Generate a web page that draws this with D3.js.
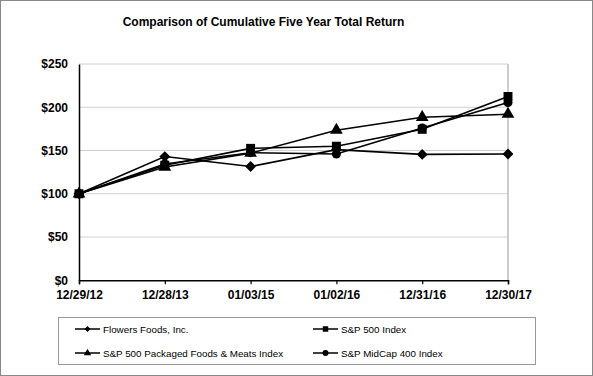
<!DOCTYPE html>
<html><head><meta charset="utf-8">
<script src="https://cdn.jsdelivr.net/npm/d3@7"></script>
<style>body{margin:0;background:#fff}svg{display:block;font-family:"Liberation Sans",Arial,sans-serif}</style>
</head><body><svg id="c" width="593" height="376"></svg>
<script>
const dates = ["12/29/12","12/28/13","01/03/15","01/02/16","12/31/16","12/30/17"];
const flowers = [100,143,131.5,151,145.5,146];
const sp500 = [100,133,152.5,155,174.5,212.5];
const packaged = [100,131,147,173.5,188.5,192];
const midcap = [100,134.5,147.5,146,176,205.5];
const yTicks = [0,50,100,150,200,250];
const seriesNames = ["Flowers Foods, Inc.","S&P 500 Index","S&P 500 Packaged Foods & Meats Index","S&P MidCap 400 Index"];
const series = [
  {name:seriesNames[0], values:flowers, sym:d3.symbolDiamond2, size:75, lsize:22},
  {name:seriesNames[1], values:sp500, sym:d3.symbolSquare, size:80, lsize:30},
  {name:seriesNames[2], values:packaged, sym:d3.symbolTriangle, size:70, lsize:24},
  {name:seriesNames[3], values:midcap, sym:d3.symbolCircle, size:64, lsize:28}
];
const svg = d3.select("#c");
svg.append("rect").attr("x",0.5).attr("y",0.5).attr("width",592).attr("height",375).attr("fill","#fff").attr("stroke","#888");
svg.append("text").attr("x",263.5).attr("y",26).attr("text-anchor","middle").attr("font-weight","bold").attr("font-size",12).text("Comparison of Cumulative Five Year Total Return");
const L=79,R=508,T=64,B=280.3;
const x = d3.scalePoint().domain(dates).range([L,R]);
const y = d3.scaleLinear().domain([0,250]).range([B,T]);
// grid
svg.append("g").selectAll("line").data(yTicks.filter(d=>d>0)).join("line")
  .attr("x1",L).attr("x2",R).attr("y1",d=>y(d)).attr("y2",d=>y(d)).attr("stroke","#d0d0d0").attr("stroke-width",1);
svg.append("line").attr("x1",R).attr("x2",R).attr("y1",T).attr("y2",B).attr("stroke","#bdbdbd").attr("stroke-width",1.5);
// axes
const ya = svg.append("g").attr("transform",`translate(${L},0)`).call(d3.axisLeft(y).tickValues(yTicks).tickSize(0).tickPadding(11).tickFormat(d=>"$"+d));
ya.select(".domain").attr("stroke","#000").attr("stroke-width",1.5);
ya.selectAll("text").attr("font-size",12).attr("font-weight","bold").attr("font-family","Liberation Sans, Arial, sans-serif").attr("fill","#000");
const xa = svg.append("g").attr("transform",`translate(0,${B})`).call(d3.axisBottom(x).tickSize(4).tickPadding(6));
xa.select(".domain").attr("stroke","#000").attr("stroke-width",1.5);
xa.selectAll(".tick line").attr("stroke","#000").attr("stroke-width",1.2);
xa.selectAll("text").attr("font-size",12).attr("font-weight","bold").attr("font-family","Liberation Sans, Arial, sans-serif").attr("fill","#000");
// lines
const line = d3.line().x((d,i)=>x(dates[i])).y(d=>y(d));
series.forEach(s=>{
  svg.append("path").attr("d",line(s.values)).attr("fill","none").attr("stroke","#000").attr("stroke-width",1.6);
});
series.forEach(s=>{
  svg.append("g").selectAll("path").data(s.values).join("path")
    .attr("transform",(d,i)=>`translate(${x(dates[i])},${y(d)})`)
    .attr("d",d3.symbol().type(s.sym).size(s.size)).attr("fill","#000");
});
// legend
svg.append("rect").attr("x",58.5).attr("y",317.5).attr("width",477).attr("height",47).attr("fill","#fff").attr("stroke","#999");
const lpos = [[75,329],[313,329],[75,353],[313,353]];
series.forEach((s,i)=>{
  const [lx,ly]=lpos[i];
  svg.append("line").attr("x1",lx).attr("x2",lx+25).attr("y1",ly).attr("y2",ly).attr("stroke","#000").attr("stroke-width",1.5);
  svg.append("path").attr("transform",`translate(${lx+12.5},${ly})`).attr("d",d3.symbol().type(s.sym).size(s.lsize)).attr("fill","#000");
  svg.append("text").attr("x",lx+28).attr("y",ly+3.5).attr("font-size",9.8).attr("fill","#000").text(s.name);
});
</script></body></html>
